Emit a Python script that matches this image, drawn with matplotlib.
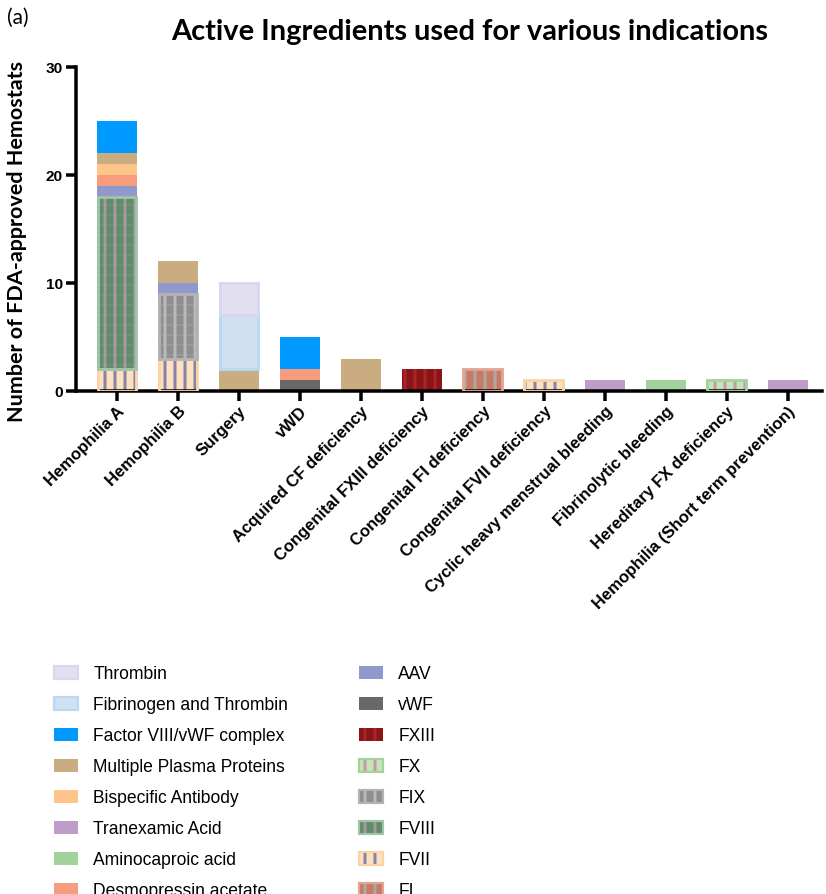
import numpy as np
import matplotlib
matplotlib.use("Agg")
import matplotlib.pyplot as plt
from matplotlib.patches import Patch
from matplotlib.legend_handler import HandlerTuple

# indications on the x axis
categories = ["Hemophilia A", "Hemophilia B", "Surgery", "vWD",
              "Acquired CF deficiency", "Congenital FXIII deficiency",
              "Congenital FI deficiency", "Congenital FVII deficiency",
              "Cyclic heavy menstrual bleeding", "Fibrinolytic bleeding",
              "Hereditary FX deficiency", "Hemophilia (Short term prevention)"]

# counts per active ingredient, one value per indication
fvii         = [2, 3, 0, 0, 0, 0, 0, 1, 0, 0, 0, 0]
fviii        = [16, 0, 0, 0, 0, 0, 0, 0, 0, 0, 0, 0]
fix          = [0, 6, 0, 0, 0, 0, 0, 0, 0, 0, 0, 0]
fi           = [0, 0, 0, 0, 0, 0, 2, 0, 0, 0, 0, 0]
fx           = [0, 0, 0, 0, 0, 0, 0, 0, 0, 0, 1, 0]
fxiii        = [0, 0, 0, 0, 0, 2, 0, 0, 0, 0, 0, 0]
vwf          = [0, 0, 0, 1, 0, 0, 0, 0, 0, 0, 0, 0]
aav          = [1, 1, 0, 0, 0, 0, 0, 0, 0, 0, 0, 0]
desmopressin = [1, 0, 0, 1, 0, 0, 0, 0, 0, 0, 0, 0]
bispecific   = [1, 0, 0, 0, 0, 0, 0, 0, 0, 0, 0, 0]
tranexamic   = [0, 0, 0, 0, 0, 0, 0, 0, 1, 0, 0, 1]
aminocaproic = [0, 0, 0, 0, 0, 0, 0, 0, 0, 1, 0, 0]
plasma       = [1, 2, 2, 0, 3, 0, 0, 0, 0, 0, 0, 0]
fib_thrombin = [0, 0, 5, 0, 0, 0, 0, 0, 0, 0, 0, 0]
thrombin     = [0, 0, 3, 0, 0, 0, 0, 0, 0, 0, 0, 0]
fviii_vwf    = [3, 0, 0, 3, 0, 0, 0, 0, 0, 0, 0, 0]

# (label, values, fill, stripe colour or None, border colour or None, grid lines)
series = [
    ("FVII", fvii, "#fde0bf", "#8584a6", "#fcd3a6", False),
    ("FVIII", fviii, "#5f8c6b", "#a69a9c", "#9ec4a9", True),
    ("FIX", fix, "#8e8e8e", "#b9b9b9", "#b3b3b3", True),
    ("FI", fi, "#c97a66", "#a9aaa2", "#e3a493", False),
    ("FX", fx, "#c5e4b9", "#c29aa8", "#a3d39c", False),
    ("FXIII", fxiii, "#8b1417", "#a8262a", None, False),
    ("vWF", vwf, "#6b6766", None, None, False),
    ("AAV", aav, "#9199cc", None, None, False),
    ("Desmopressin acetate", desmopressin, "#f79d7e", None, None, False),
    ("Bispecific Antibody", bispecific, "#fdc58a", None, None, False),
    ("Tranexamic Acid", tranexamic, "#c09ccb", None, None, False),
    ("Aminocaproic acid", aminocaproic, "#a3d39c", None, None, False),
    ("Multiple Plasma Proteins", plasma, "#c9ad80", None, None, False),
    ("Fibrinogen and Thrombin", fib_thrombin, "#cfe0f2", None, "#b9d8f2", False),
    ("Thrombin", thrombin, "#e2e0f0", None, "#d9d7ee", False),
    ("Factor VIII/vWF complex", fviii_vwf, "#0099ff", None, None, False),
]

legend_order = ["Thrombin", "Fibrinogen and Thrombin", "Factor VIII/vWF complex",
                "Multiple Plasma Proteins", "Bispecific Antibody", "Tranexamic Acid",
                "Aminocaproic acid", "Desmopressin acetate",
                "AAV", "vWF", "FXIII", "FX", "FIX", "FVIII", "FVII", "FI"]

plt.rcParams["hatch.linewidth"] = 1.8


def thin_hatch(container, lw):
    # per-patch hatch width where the installed matplotlib supports it
    for p in container:
        if hasattr(p, "set_hatch_linewidth"):
            p.set_hatch_linewidth(lw)


fig = plt.figure(figsize=(826 / 120, 894 / 120), dpi=120)
ax = fig.add_axes([0.092, 0.5626, 0.903, 0.3624])

x = np.arange(len(categories))
width = 0.66
bottom = np.zeros(len(categories))
handles = {}
for label, vals, fill, stripe, border, grid in series:
    vals = np.array(vals, dtype=float)
    m = vals > 0
    xs, vs, bs = x[m], vals[m], bottom[m]
    if stripe:
        ax.bar(xs, vs, width, bottom=bs, color=fill, edgecolor=stripe,
               hatch="||", linewidth=0, zorder=2)
        if grid:
            g = ax.bar(xs, vs, width, bottom=bs, facecolor="none",
                       edgecolor=stripe, hatch="--", linewidth=0, zorder=3,
                       alpha=0.6)
            thin_hatch(g, 0.5)
        h = [Patch(facecolor=fill, edgecolor=stripe, hatch="||", linewidth=0)]
    else:
        ax.bar(xs, vs, width, bottom=bs, color=fill, linewidth=0, zorder=2)
        h = [Patch(facecolor=fill, linewidth=0)]
    if border:
        ax.bar(xs, vs, width * 0.96, bottom=bs, facecolor="none",
               edgecolor=border, linewidth=1.7, zorder=4)
        h.append(Patch(facecolor="none", edgecolor=border, linewidth=1.3))
    handles[label] = tuple(h)
    bottom += vals

ax.set_xlim(-0.67, 11.56)
ax.set_ylim(0, 30)
ax.set_yticks([0, 10, 20, 30])
ax.set_xticks(x)
ax.set_xticklabels(categories, rotation=45, ha="right", rotation_mode="anchor",
                   fontsize=10, fontweight="bold", family="Liberation Sans")
for t in ax.get_yticklabels():
    t.set_fontsize(9.2)
    t.set_fontweight("bold")
    t.set_family("Liberation Sans")
ax.spines["top"].set_visible(False)
ax.spines["right"].set_visible(False)
for s in ["left", "bottom"]:
    ax.spines[s].set_linewidth(2.1)
ax.tick_params(width=2.1, length=5.8, direction="out", pad=2)

fig.text(0.0206, 0.730, "Number of FDA-approved Hemostats", rotation=90,
         ha="center", va="center", fontsize=12.9, fontweight="bold", family="Lato")
fig.text(0.568, 0.964, "Active Ingredients used for various indications",
         ha="center", va="center", fontsize=17.4, fontweight="bold", family="Lato")
fig.text(0.008, 0.98, "(a)", ha="left", va="center", fontsize=12.5, family="Lato")

fig.legend([handles[k] for k in legend_order], legend_order, ncol=2,
           loc="upper left", bbox_to_anchor=(0.0465, 0.2728), frameon=False,
           prop={"family": "Liberation Sans", "size": 10.5},
           handler_map={tuple: HandlerTuple(ndivide=1, pad=0)},
           handlelength=1.37, handleheight=0.8, handletextpad=0.86,
           labelspacing=0.8, columnspacing=4.06)

fig.savefig("out.png", dpi=120)
